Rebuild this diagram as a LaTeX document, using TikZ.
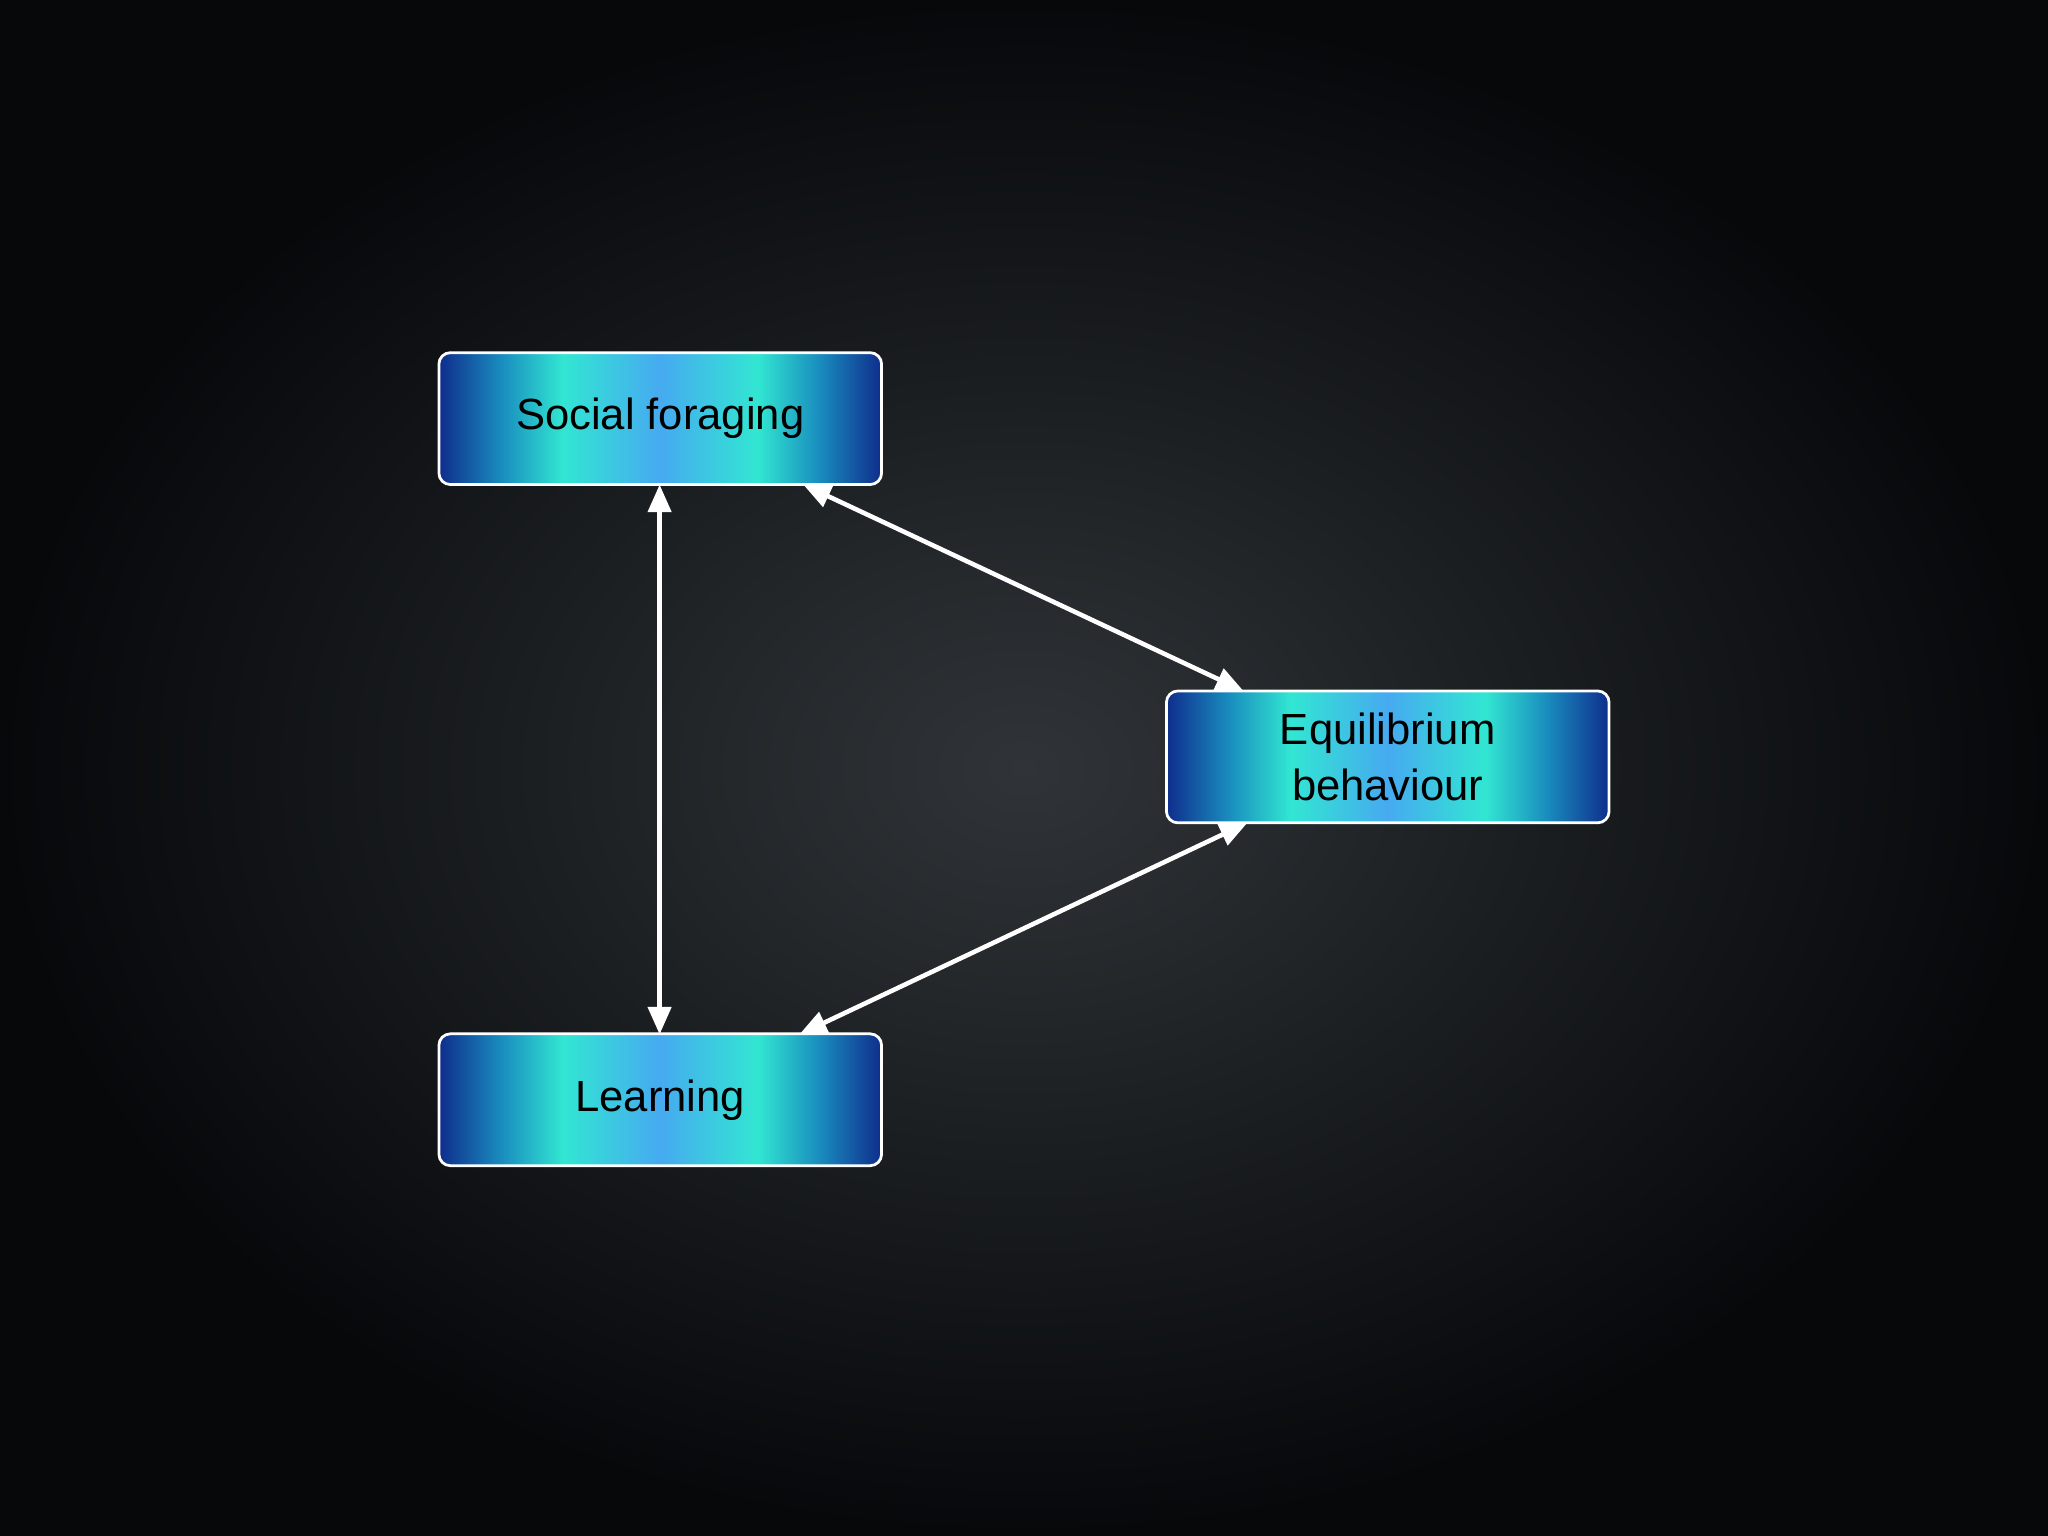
\documentclass[tikz,border=0pt]{standalone}
\usepackage{fontspec}
\setmainfont{Liberation Sans}
\usetikzlibrary{arrows.meta}
\definecolor{boxdark}{RGB}{15,45,140}
\definecolor{boxmid}{RGB}{25,140,190}
\definecolor{boxcyan}{RGB}{50,230,210}
\definecolor{boxlight}{RGB}{70,170,240}
\definecolor{bgin}{RGB}{48,52,56}
\definecolor{bgout}{RGB}{6,8,10}
\pgfdeclarehorizontalshading{boxshade}{100bp}{
 color(0bp)=(boxdark); color(25bp)=(boxdark); color(32bp)=(boxmid); color(39bp)=(boxcyan);
 color(50bp)=(boxlight); color(61bp)=(boxcyan); color(68bp)=(boxmid); color(75bp)=(boxdark); color(100bp)=(boxdark)}
\begin{document}
\begin{tikzpicture}[x=0.02cm,y=-0.02cm,
 topic/.style={draw=white,line width=1.2pt,rounded corners=5pt,shading=boxshade,
   minimum width=6.78cm,minimum height=2.02cm,align=center,font=\fontsize{19}{24}\selectfont,text=black},
 link/.style={white,line width=2pt,{Triangle[length=12pt,width=10pt]}-{Triangle[length=12pt,width=10pt]}}]
\shade[inner color=bgin,outer color=bgout] (0,0) rectangle (1568,1176);
\useasboundingbox (0,0) rectangle (1568,1176);
\node[topic] (sf) at (505.5,320.5) {Social foraging};
\node[topic] (le) at (505.5,842) {Learning};
\node[topic] (eq) at (1062.5,579.5) {Equilibrium\\behaviour};
\coordinate (sfb) at (505,371);
\coordinate (leT) at (505,792);
\coordinate (sfr) at (615,371);
\coordinate (eqt) at (952,529);
\coordinate (eqb) at (955,630);
\coordinate (ler) at (612,792);
\draw[link] (sfb) -- (leT);
\draw[link] (sfr) -- (eqt);
\draw[link] (eqb) -- (ler);
\end{tikzpicture}
\end{document}
